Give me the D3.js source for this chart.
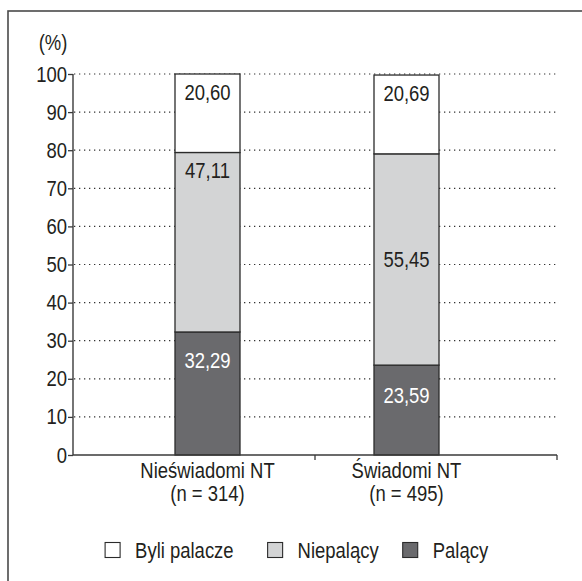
<!DOCTYPE html>
<html>
<head>
<meta charset="utf-8">
<script src="https://cdn.jsdelivr.net/npm/d3@7"></script>
<style>
  html, body { margin: 0; padding: 0; background: #fff; }
  svg { display: block; }
  text { font-family: "Liberation Sans Narrow", "Liberation Sans", Arial, sans-serif; fill: #231f20; }
</style>
</head>
<body>
<script>
// ---- data ----
const categories = ["Nieświadomi NT", "Świadomi NT"];
const sampleSizes = ["(n = 314)", "(n = 495)"];
const seriesNames = ["Palący", "Niepalący", "Byli palacze"];   // stacked bottom -> top
const palacy = [32.29, 23.59];
const niepalacy = [47.11, 55.45];
const byliPalacze = [20.60, 20.69];
const yTicks = [0, 10, 20, 30, 40, 50, 60, 70, 80, 90, 100];
const legendOrder = ["Byli palacze", "Niepalący", "Palący"];
const unitLabel = "(%)";

// ---- layout / style ----
const W = 582, H = 581;
const colors = { "Palący": "#6a6a6d", "Niepalący": "#d3d4d5", "Byli palacze": "#ffffff" };
const textColors = { "Palący": "#ffffff", "Niepalący": "#231f20", "Byli palacze": "#231f20" };
const fontSize = 22;
const K = 0.84; // horizontal condensing of the text (condensed face look)
// label centre offset from segment top (px), per category, per series (bottom->top)
const labelOffsets = [[28, 18, 18], [30, 105, 18]];
const legendGaps = [34, 24];

// helper: condense a text selection horizontally around its own x
function condense(sel) {
  sel.each(function () {
    const t = d3.select(this);
    const x = +t.attr("x") || 0;
    t.attr("x", x / K).attr("transform", `scale(${K},1)`);
  });
  return sel;
}

const svg = d3.select("body").append("svg").attr("width", W).attr("height", H);

// frame
svg.append("rect").attr("x", 8).attr("y", 11).attr("width", 700).attr("height", 700)
  .attr("fill", "none").attr("stroke", "#4a4a4a").attr("stroke-width", 1.6);

const y = d3.scaleLinear().domain([0, 100]).range([455, 74]);
const xAxisBand = d3.scaleBand().domain(categories).range([73, 557]);
const xBar = d3.scalePoint().domain(categories).range([207.5, 406.5]);
const barW = 65;

// gridlines
svg.append("g").selectAll("line").data(yTicks.filter(t => t > 0)).join("line")
  .attr("x1", 74).attr("x2", 557)
  .attr("y1", d => y(d)).attr("y2", d => y(d))
  .attr("stroke", "#333").attr("stroke-width", 1.2)
  .attr("stroke-dasharray", "1.3,3.7");

// stacked data
const table = categories.map((c, i) => ({ cat: c, "Palący": palacy[i], "Niepalący": niepalacy[i], "Byli palacze": byliPalacze[i] }));
const stacked = d3.stack().keys(seriesNames)(table);

const fmt = v => d3.format(".2f")(v).replace(".", ",");

stacked.forEach((layer) => {
  svg.append("g").selectAll("rect").data(layer).join("rect")
    .attr("x", d => xBar(d.data.cat) - barW / 2)
    .attr("width", barW)
    .attr("y", d => y(d[1]))
    .attr("height", d => y(d[0]) - y(d[1]))
    .attr("fill", colors[layer.key])
    .attr("stroke", "#2b2b2b").attr("stroke-width", 1.3);
});
stacked.forEach((layer, si) => {
  svg.append("g").selectAll("text").data(layer).join("text")
    .attr("x", d => xBar(d.data.cat))
    .attr("y", (d, ci) => y(d[1]) + labelOffsets[ci][si])
    .attr("dy", "0.36em")
    .attr("text-anchor", "middle")
    .attr("font-size", fontSize)
    .style("fill", textColors[layer.key])
    .text(d => fmt(d.data[layer.key]))
    .call(condense);
});

// y axis
const yAxis = svg.append("g").attr("transform", "translate(73,0)")
  .call(d3.axisLeft(y).tickValues(yTicks).tickSize(5).tickPadding(1).tickFormat(d3.format("d")));
yAxis.select(".domain").attr("stroke", "#3a3a3a").attr("stroke-width", 1.4).attr("d", `M0,${y(100)}V${y(0)}`);
yAxis.selectAll(".tick line").attr("stroke", "#3a3a3a").attr("stroke-width", 1.3);
yAxis.selectAll(".tick text").attr("font-size", fontSize).style("fill", "#231f20")
  .attr("font-family", "'Liberation Sans Narrow', 'Liberation Sans', Arial, sans-serif")
  .call(condense);

// x axis baseline with boundary ticks
const bounds = [xAxisBand.range()[0], ...categories.map(c => xAxisBand(c) + xAxisBand.bandwidth())];
svg.append("line").attr("x1", 73).attr("x2", bounds[bounds.length - 1])
  .attr("y1", y(0)).attr("y2", y(0)).attr("stroke", "#3a3a3a").attr("stroke-width", 1.4);
svg.append("g").selectAll("line").data(bounds.slice(1)).join("line")
  .attr("x1", d => d).attr("x2", d => d)
  .attr("y1", y(0)).attr("y2", y(0) + 5)
  .attr("stroke", "#3a3a3a").attr("stroke-width", 1.3);

// category labels (two lines)
svg.append("g").selectAll("text").data(categories).join("text")
  .attr("text-anchor", "middle").attr("font-size", fontSize)
  .attr("x", d => xBar(d)).attr("y", 478).text(d => d).call(condense);
svg.append("g").selectAll("text").data(categories).join("text")
  .attr("text-anchor", "middle").attr("font-size", fontSize)
  .attr("x", d => xBar(d)).attr("y", 501).text((d, i) => sampleSizes[i]).call(condense);

// unit label
svg.append("text").attr("x", 53).attr("y", 50).attr("text-anchor", "middle")
  .attr("font-size", fontSize).text(unitLabel).call(condense);

// legend
const legend = svg.append("g");
let lx = 0;
legendOrder.forEach((name, i) => {
  const item = legend.append("g").attr("transform", `translate(${lx},0)`);
  item.append("rect").attr("x", 0).attr("y", -7.5).attr("width", 15).attr("height", 15)
    .attr("fill", colors[name]).attr("stroke", "#2b2b2b").attr("stroke-width", 1.1);
  const t = item.append("text").attr("x", 30).attr("y", 0).attr("dy", "0.36em")
    .attr("font-size", fontSize).text(name).call(condense);
  lx += 30 + t.node().getComputedTextLength() * K + (legendGaps[i] || 0);
});
const lw = legend.node().getBBox().width;
legend.attr("transform", `translate(${297 - lw / 2},550)`);
</script>
</body>
</html>
